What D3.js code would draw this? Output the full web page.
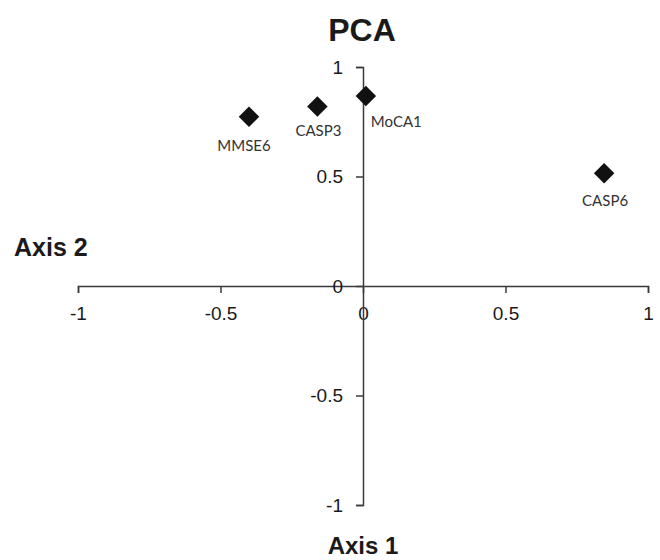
<!DOCTYPE html>
<html>
<head>
<meta charset="utf-8">
<script src="https://cdn.jsdelivr.net/npm/d3@7"></script>
<style>
  body { margin: 0; background: #fff; }
  #chart { width: 660px; height: 560px; }
  .axis path, .axis line { stroke: #3a3a3a; stroke-width: 1.5; }
  .axis text { font-family: "Liberation Sans", Arial, sans-serif; font-size: 19px; fill: #1a1a1a; }
</style>
</head>
<body>
<div id="chart"></div>
<script>
const VARIABLES = ["MMSE6", "CASP3", "MoCA1", "CASP6"];
const AXIS1_VALUES = [-0.40, -0.16, 0.01, 0.846];
const AXIS2_VALUES = [0.773, 0.82, 0.868, 0.515];
const TICKS = [-1, -0.5, 0, 0.5, 1];

// label placement relative to each marker [dx, dy, anchor]
const LABEL_OFFSETS = [
  [-5, 34, "middle"],
  [1, 30, "middle"],
  [5, 31, "start"],
  [1, 33, "middle"]
];

const data = VARIABLES.map((name, i) => ({
  name,
  x: AXIS1_VALUES[i],
  y: AXIS2_VALUES[i]
}));

renderChart(data);

function renderChart(data) {
  const width = 660;
  const height = 560;

  const svg = d3.select("#chart")
    .append("svg")
    .attr("width", width)
    .attr("height", height);

  const xScale = d3.scaleLinear().domain([-1, 1]).range([78, 648]);
  const yScale = d3.scaleLinear().domain([-1, 1]).range([505, 67]);

  const fmt = d => d === 0 ? "0" : String(d);

  svg.append("g")
    .attr("class", "axis x-axis")
    .attr("transform", `translate(0,${yScale(0)})`)
    .call(d3.axisBottom(xScale).tickValues(TICKS).tickFormat(fmt).tickSizeInner(7).tickSizeOuter(7).tickPadding(14));

  svg.append("g")
    .attr("class", "axis y-axis")
    .attr("transform", `translate(${xScale(0)},0)`)
    .call(d3.axisLeft(yScale).tickValues(TICKS).tickFormat(fmt).tickSizeInner(7).tickSizeOuter(7).tickPadding(13));

  svg.selectAll(".axis .domain").attr("fill", "none");

  const diamond = d3.symbol().type(d3.symbolSquare).size(210);

  svg.selectAll(".point")
    .data(data)
    .enter()
    .append("path")
    .attr("class", "point")
    .attr("d", diamond)
    .attr("transform", d => `translate(${xScale(d.x)},${yScale(d.y)}) rotate(45)`)
    .attr("fill", "#111");

  svg.selectAll(".point-label")
    .data(data)
    .enter()
    .append("text")
    .attr("class", "point-label")
    .attr("x", (d, i) => xScale(d.x) + LABEL_OFFSETS[i][0])
    .attr("y", (d, i) => yScale(d.y) + LABEL_OFFSETS[i][1])
    .attr("text-anchor", (d, i) => LABEL_OFFSETS[i][2])
    .attr("font-family", "Lato, 'Open Sans', sans-serif")
    .attr("font-size", "15px")
    .attr("fill", "#333")
    .text(d => d.name);

  svg.append("text")
    .attr("x", 362)
    .attr("y", 41)
    .attr("text-anchor", "middle")
    .attr("font-family", "'Liberation Sans', Arial, sans-serif")
    .attr("font-weight", "bold")
    .attr("font-size", "32px")
    .attr("fill", "#1a1a1a")
    .text("PCA");

  svg.append("text")
    .attr("x", 14)
    .attr("y", 256)
    .attr("font-family", "'Liberation Sans', Arial, sans-serif")
    .attr("font-weight", "bold")
    .attr("font-size", "25px")
    .attr("fill", "#1a1a1a")
    .text("Axis 2");

  svg.append("text")
    .attr("x", 363)
    .attr("y", 554)
    .attr("text-anchor", "middle")
    .attr("font-family", "'Liberation Sans', Arial, sans-serif")
    .attr("font-weight", "bold")
    .attr("font-size", "24px")
    .attr("fill", "#1a1a1a")
    .text("Axis 1");
}
</script>
</body>
</html>
